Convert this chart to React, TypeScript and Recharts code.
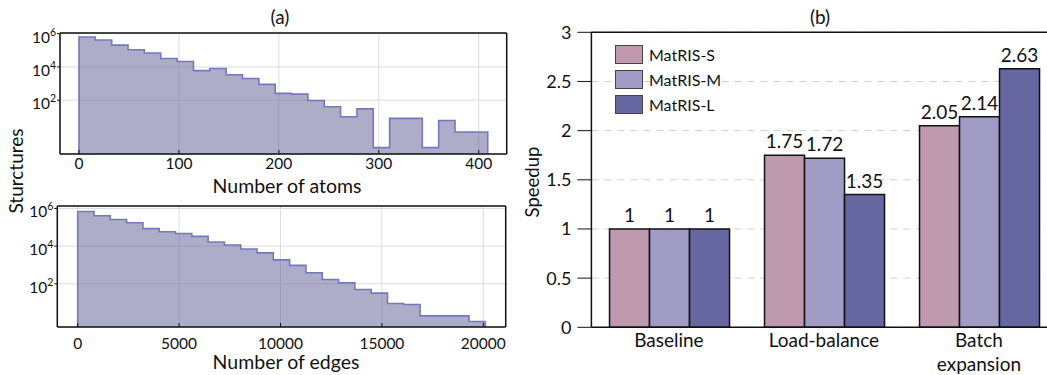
import React from "react";
import {
  Area,
  Bar,
  BarChart,
  CartesianGrid,
  ComposedChart,
  LabelList,
  Legend,
  ReferenceLine,
  XAxis,
  YAxis,
} from "recharts";

const FONT = "Lato, 'Noto Sans', sans-serif";
const INK = "#111";

// (a) structure size histograms, 25 bins each
const atomBinRange = [0, 409];
const atomCounts = [
  630000, 417000, 204000, 107000, 68000, 32000, 21000, 6000, 8000, 3400, 2000, 890, 257,
  229, 95, 40, 10, 30, 0.14, 8, 8, 0.14, 6, 1.2, 1.2,
];
const atomTicks = [0, 100, 200, 300, 400];

const edgeBinRange = [0, 20100];
const edgeCounts = [
  690000, 410000, 257000, 174000, 85000, 58000, 47000, 33000, 16600, 11500, 7100, 4400,
  1860, 950, 390, 170, 112, 50, 32, 9, 8, 2, 2, 2, 1,
];
const edgeTicks = [0, 5000, 10000, 15000, 20000];

const countTicks = [1e2, 1e4, 1e6];

// (b) speedup per optimisation stage
const stages = ["Baseline", "Load-balance", "Batch expansion"];
const modelNames = ["MatRIS-S", "MatRIS-M", "MatRIS-L"];
const speedupS = [1, 1.75, 2.05];
const speedupM = [1, 1.72, 2.14];
const speedupL = [1, 1.35, 2.63];
const speedupTicks = [0, 0.5, 1, 1.5, 2, 2.5, 3];

const modelColors = ["#bf9aae", "#a09cc6", "#6666a0"];
const modelKeys = ["s", "m", "l"];

function stepRows(range: number[], counts: number[], base: number) {
  const w = (range[1] - range[0]) / counts.length;
  const rows = [{ x: range[0], y: base }];
  counts.forEach((c, i) => rows.push({ x: range[0] + i * w, y: c }));
  rows.push({ x: range[1], y: counts[counts.length - 1] });
  rows.push({ x: range[1], y: base });
  return rows;
}

function LogTick(props: any) {
  const { x, y, payload } = props;
  const exp = Math.round(Math.log10(payload.value));
  return (
    <text x={x} y={y + 9} textAnchor="end" fontSize={15.5} fill={INK} fontFamily={FONT}>
      10
      <tspan dy={-7} fontSize={10.5}>
        {exp}
      </tspan>
    </text>
  );
}

interface HistogramProps {
  range: number[];
  counts: number[];
  ticks: number[];
  xDomain: [number, number];
  yDomain: [number, number];
  width: number;
  height: number;
  margin: { top: number; right: number; bottom: number; left: number };
  yAxisWidth: number;
  xAxisHeight: number;
  xTickMargin: number;
}

function Histogram(p: HistogramProps) {
  const rows = stepRows(p.range, p.counts, p.yDomain[0]);
  return (
    <ComposedChart width={p.width} height={p.height} data={rows} margin={p.margin}>
      <CartesianGrid stroke="#dcdcdc" />
      <XAxis
        dataKey="x"
        type="number"
        domain={p.xDomain}
        allowDataOverflow
        ticks={p.ticks}
        interval={0}
        height={p.xAxisHeight}
        tickSize={-4}
        tickMargin={p.xTickMargin}
        axisLine={{ stroke: INK, strokeWidth: 1.5 }}
        tickLine={{ stroke: INK }}
        tick={{ fontSize: 15.5, fill: INK, fontFamily: FONT }}
      />
      <YAxis
        type="number"
        scale="log"
        domain={p.yDomain}
        allowDataOverflow
        ticks={countTicks}
        interval={0}
        width={p.yAxisWidth}
        tickSize={3}
        tickMargin={1}
        axisLine={{ stroke: INK, strokeWidth: 1.5 }}
        tickLine={{ stroke: INK }}
        tick={(props: any) => <LogTick {...props} />}
      />
      <Area
        type="stepAfter"
        dataKey="y"
        baseValue={p.yDomain[0]}
        stroke="#7777bf"
        strokeWidth={1.6}
        fill="#5c5c94"
        fillOpacity={0.5}
        dot={false}
        activeDot={false}
        isAnimationActive={false}
      />
      <ReferenceLine y={p.yDomain[1]} stroke={INK} strokeWidth={1.5} />
      <ReferenceLine x={p.xDomain[1]} stroke={INK} strokeWidth={1.5} />
    </ComposedChart>
  );
}

function StageTick(props: any) {
  const { x, y, payload } = props;
  const lines = String(payload.value).split(" ");
  return (
    <text x={x} y={y + 20} textAnchor="middle" fontSize={19} fill={INK} fontFamily={FONT}>
      {lines.map((line, i) => (
        <tspan key={line} x={x} dy={i === 0 ? 0 : 23.5}>
          {line}
        </tspan>
      ))}
    </text>
  );
}

function SpeedupLegend() {
  return (
    <div style={{ fontFamily: FONT, fontSize: 16, color: INK }}>
      {modelNames.map((name, i) => (
        <div key={name} style={{ display: "flex", alignItems: "center", height: 18, marginBottom: 6.8 }}>
          <span
            style={{
              display: "inline-block",
              width: 26,
              height: 17,
              background: modelColors[i],
              border: "1px solid #444",
              marginRight: 6,
            }}
          />
          {name}
        </div>
      ))}
    </div>
  );
}

function SpeedupChart() {
  const data = stages.map((stage, i) => ({
    stage,
    s: speedupS[i],
    m: speedupM[i],
    l: speedupL[i],
  }));
  return (
    <BarChart
      width={560}
      height={375}
      data={data}
      margin={{ top: 32.3, right: 23.6, bottom: 0, left: 0 }}
      barCategoryGap="11.7%"
      barGap={0}
    >
      <CartesianGrid vertical={false} stroke="#cfcfcf" strokeDasharray="7 6" />
      <XAxis
        dataKey="stage"
        height={47.7}
        tickSize={0}
        tickMargin={0}
        tickLine={false}
        interval={0}
        axisLine={{ stroke: INK, strokeWidth: 1.5 }}
        tick={(props: any) => <StageTick {...props} />}
      />
      <YAxis
        type="number"
        domain={[0, 3]}
        ticks={speedupTicks}
        interval={0}
        width={71.4}
        tickSize={14}
        tickMargin={6}
        axisLine={{ stroke: INK, strokeWidth: 1.5 }}
        tickLine={{ stroke: INK }}
        tick={{ fontSize: 18, fill: INK, fontFamily: FONT }}
      />
      <Legend
        layout="vertical"
        align="center"
        verticalAlign="middle"
        content={() => <SpeedupLegend />}
        wrapperStyle={{ left: 95, top: 45.5, width: "auto", height: "auto" }}
      />
      {modelKeys.map((key, i) => (
        <Bar
          key={key}
          dataKey={key}
          name={modelNames[i]}
          fill={modelColors[i]}
          stroke={INK}
          strokeWidth={1.5}
          isAnimationActive={false}
        >
          <LabelList
            dataKey={key}
            position="top"
            offset={7}
            fontSize={19}
            fill={INK}
            fontFamily={FONT}
          />
        </Bar>
      ))}
      <ReferenceLine y={3} stroke={INK} strokeWidth={1.5} />
    </BarChart>
  );
}

export default function App() {
  return (
    <div
      style={{
        position: "absolute",
        left: 0,
        top: 0,
        width: 1047,
        height: 375,
        overflow: "hidden",
        background: "#fff",
        fontFamily: FONT,
      }}
    >
      <div style={{ position: "absolute", left: 0, top: 0 }}>
        <Histogram
          range={atomBinRange}
          counts={atomCounts}
          ticks={atomTicks}
          xDomain={[-19, 428]}
          yDomain={[10 ** -1.24, 10 ** 6.04]}
          width={520}
          height={200}
          margin={{ top: 33, right: 13.3, bottom: 0, left: 8 }}
          yAxisWidth={52}
          xAxisHeight={46}
          xTickMargin={7.5}
        />
      </div>
      <div style={{ position: "absolute", left: 0, top: 180 }}>
        <Histogram
          range={edgeBinRange}
          counts={edgeCounts}
          ticks={edgeTicks}
          xDomain={[-1005, 21105]}
          yDomain={[10 ** -0.29, 10 ** 6.13]}
          width={520}
          height={195}
          margin={{ top: 26, right: 14.3, bottom: 0, left: 8 }}
          yAxisWidth={49.3}
          xAxisHeight={48}
          xTickMargin={14.5}
        />
      </div>
      <div style={{ position: "absolute", left: 520, top: 0 }}>
        <SpeedupChart />
      </div>
      <svg
        width={1047}
        height={375}
        style={{ position: "absolute", left: 0, top: 0, pointerEvents: "none" }}
        fontFamily={FONT}
        fill={INK}
      >
        <text x={280} y={16} fontSize={19} textAnchor="middle" dominantBaseline="central">
          (a)
        </text>
        <text x={820} y={16} fontSize={19} textAnchor="middle" dominantBaseline="central">
          (b)
        </text>
        <text
          x={15}
          y={171}
          fontSize={19}
          textAnchor="middle"
          dominantBaseline="central"
          transform="rotate(-90 15 171)"
        >
          Sturctures
        </text>
        <text x={287} y={185} fontSize={19.5} textAnchor="middle" dominantBaseline="central">
          Number of atoms
        </text>
        <text x={286} y={361} fontSize={19.5} textAnchor="middle" dominantBaseline="central">
          Number of edges
        </text>
        <text
          x={532}
          y={182}
          fontSize={18.5}
          textAnchor="middle"
          dominantBaseline="central"
          transform="rotate(-90 532 182)"
        >
          Speedup
        </text>
      </svg>
    </div>
  );
}
